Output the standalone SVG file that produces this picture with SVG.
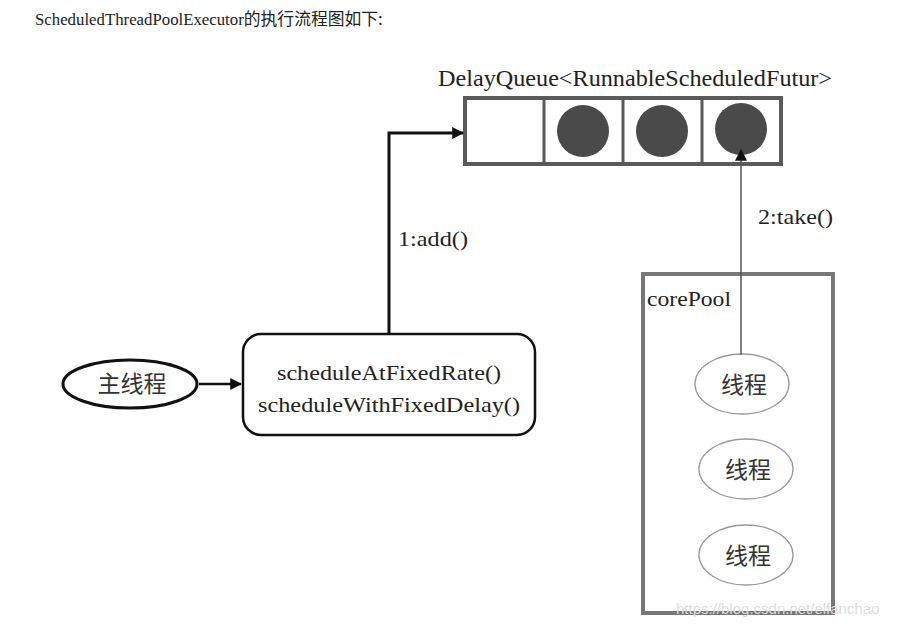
<svg xmlns="http://www.w3.org/2000/svg" width="900" height="629" viewBox="0 0 900 629">
<style>
.serif{font-family:"Liberation Serif","Noto Sans CJK SC",serif;fill:#222}
.cjk{font-family:"Noto Sans CJK SC",sans-serif;fill:#333}
.dot{fill:#4a4a4a}
.th{fill:#fff;stroke:#999;stroke-width:1.3}
</style>
<defs>
<marker id="ah2" viewBox="0 0 10 10" refX="9" refY="5" markerWidth="12" markerHeight="12" orient="auto" markerUnits="userSpaceOnUse">
<path d="M0,0 L10,5 L0,10 z" fill="#111"/>
</marker>
</defs>
<rect width="900" height="629" fill="#fff"/>
<text x="35" y="25" class="serif" font-size="16.8">ScheduledThreadPoolExecutor<tspan font-family="Noto Sans CJK SC, sans-serif">的执行流程图如下:</tspan></text>

<g id="queue">
<text x="438" y="86" class="serif" font-size="23" textLength="394" lengthAdjust="spacingAndGlyphs">DelayQueue&lt;RunnableScheduledFutur&gt;</text>
<rect x="465" y="98" width="316" height="66" fill="#fff" stroke="#5a5a5a" stroke-width="4"/>
<line x1="544" y1="98" x2="544" y2="164" stroke="#5a5a5a" stroke-width="3"/>
<line x1="623" y1="98" x2="623" y2="164" stroke="#5a5a5a" stroke-width="3"/>
<line x1="702" y1="98" x2="702" y2="164" stroke="#5a5a5a" stroke-width="3"/>
<circle cx="583" cy="131" r="26" class="dot"/>
<circle cx="662" cy="131" r="26" class="dot"/>
<circle cx="741" cy="129" r="26" class="dot"/>
</g>

<g id="main">
<ellipse cx="130" cy="384" rx="67" ry="24" fill="#fff" stroke="#111" stroke-width="3"/>
<text x="132" y="392" class="cjk" font-size="23" text-anchor="middle">主线程</text>
</g>

<g id="schedule">
<rect x="243" y="334" width="292" height="101" rx="18" fill="#fff" stroke="#111" stroke-width="2.5"/>
<text x="277" y="380" class="serif" font-size="21.5" textLength="224" lengthAdjust="spacingAndGlyphs">scheduleAtFixedRate()</text>
<text x="258" y="412" class="serif" font-size="21.5" textLength="262" lengthAdjust="spacingAndGlyphs">scheduleWithFixedDelay()</text>
</g>

<g id="corePool">
<rect x="643" y="274" width="190" height="339" fill="none" stroke="#777" stroke-width="4"/>
<text x="647" y="306" class="serif" font-size="22" textLength="84" lengthAdjust="spacingAndGlyphs">corePool</text>
<g id="t1">
<ellipse cx="742" cy="384" rx="47" ry="30" class="th"/>
<text x="744" y="393" class="cjk" font-size="23" text-anchor="middle">线程</text>
</g>
<g id="t2">
<ellipse cx="746" cy="469" rx="47" ry="30" class="th"/>
<text x="748" y="478" class="cjk" font-size="23" text-anchor="middle">线程</text>
</g>
<g id="t3">
<ellipse cx="746" cy="555" rx="47" ry="30" class="th"/>
<text x="748" y="564" class="cjk" font-size="23" text-anchor="middle">线程</text>
</g>
</g>

<g id="connectors">
<line x1="199" y1="384" x2="241" y2="384" stroke="#111" stroke-width="2.5" marker-end="url(#ah2)"/>
<polyline points="389,334 389,133 463,133" fill="none" stroke="#111" stroke-width="3" marker-end="url(#ah2)"/>
<text x="398" y="246" class="serif" font-size="21.5" textLength="70" lengthAdjust="spacingAndGlyphs">1:add()</text>
<line x1="741" y1="355" x2="741" y2="150" stroke="#555" stroke-width="1.5" marker-end="url(#ah2)"/>
<text x="758" y="224" class="serif" font-size="21" textLength="75" lengthAdjust="spacingAndGlyphs">2:take()</text>
</g>

<text x="676" y="614" font-family="Liberation Sans, sans-serif" font-size="15" fill="#ddd">https://blog.csdn.net/elfanchao</text>
</svg>
